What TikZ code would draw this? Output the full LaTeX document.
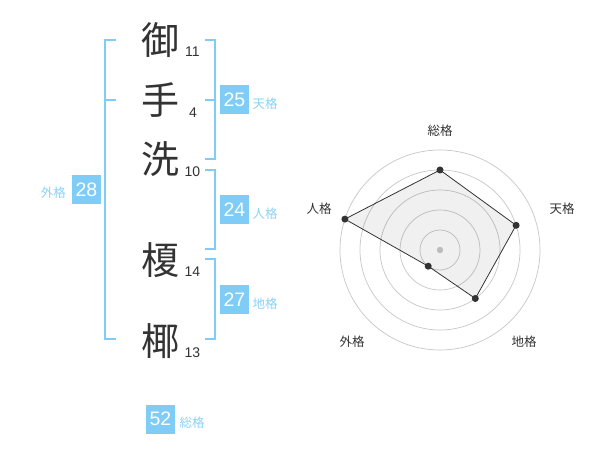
\documentclass[tikz,border=0pt]{standalone}
\usepackage{fontspec}
\setmainfont{Liberation Sans}
\newfontfamily\cjk{Noto Sans CJK JP}
\definecolor{kblue}{HTML}{7FCCF7}
\definecolor{klab}{HTML}{8CD2F7}
\definecolor{ink}{HTML}{333333}
\begin{document}
\begin{tikzpicture}[x=1pt,y=-1pt,
  kanji/.style={text=ink,font=\cjk\fontsize{38}{38}\selectfont,inner sep=0pt},
  num/.style={text=ink,font=\fontsize{14}{14}\selectfont,inner sep=0pt},
  br/.style={draw=kblue,line width=2pt},
  kbox/.style={fill=kblue,text=white,minimum size=29pt,inner sep=0pt,font=\fontsize{19.5}{19.5}\selectfont},
  klabel/.style={text=klab,font=\cjk\fontsize{12.5}{12.5}\selectfont,inner sep=0pt},
  rlabel/.style={text=ink,font=\cjk\fontsize{12.5}{12.5}\selectfont,inner sep=0pt},
  ring/.style={draw=black!22,line width=0.7pt},
  dot/.style={circle,fill=ink,inner sep=0pt,minimum size=7pt}]
\useasboundingbox (0,0) rectangle (600,470);
\fill[white] (0,0) rectangle (600,470);
% kanji
\node[kanji] (k1) at (160,40) {御};
\node[kanji] (k2) at (160,100) {手};
\node[kanji] (k3) at (160,159) {洗};
\node[kanji] (k4) at (160,260) {榎};
\node[kanji] (k5) at (160,341) {椰};
% stroke counts
\node[num] (n1) at (192.5,52) {11};
\node[num] (n2) at (193,113) {4};
\node[num] (n3) at (192.5,172) {10};
\node[num] (n4) at (192.5,272) {14};
\node[num] (n5) at (192.5,353) {13};
% brackets
\draw[br] (116,40) -- (105,40) -- (105,339) -- (116,339);
\draw[br] (105,100) -- (116,100);
\draw[br] (205,40) -- (215,40) -- (215,159) -- (205,159);
\draw[br] (205,100) -- (215,100);
\draw[br] (205,170) -- (215,170) -- (215,249) -- (205,249);
\draw[br] (205,259) -- (215,259) -- (215,339) -- (205,339);
% boxes and labels
\node[kbox] (ten) at (234.5,100) {25};
\node[klabel,anchor=west] (tenl) at (252.5,103.5) {天格};
\node[kbox] (jin) at (234.5,210) {24};
\node[klabel,anchor=west] (jinl) at (252.5,213.5) {人格};
\node[kbox] (chi) at (234.5,300) {27};
\node[klabel,anchor=west] (chil) at (252.5,303.5) {地格};
\node[kbox] (gai) at (86.5,190) {28};
\node[klabel,anchor=east] (gail) at (66,193) {外格};
\node[kbox] (sou) at (160.5,419) {52};
\node[klabel,anchor=west] (soul) at (179.5,422.5) {総格};
% radar chart
\coordinate (c) at (440,250);
\foreach \r in {20,40,60,80,100} \draw[ring] (c) circle[radius=\r];
\fill[black!22] (c) circle[radius=3.2];
\coordinate (pSou) at (440,170);
\coordinate (pTen) at (516.1,225.3);
\coordinate (pChi) at (475.3,298.5);
\coordinate (pGai) at (428.2,266.2);
\coordinate (pJin) at (344.9,219.1);
\filldraw[fill=black,fill opacity=0.06,draw=ink,line width=0.8pt]
  (pSou) -- (pTen) -- (pChi) -- (pGai) -- (pJin) -- cycle;
\foreach \p in {pSou,pTen,pChi,pGai,pJin} \node[dot] at (\p) {};
\node[rlabel] (lSou) at (440,131) {総格};
\node[rlabel] (lTen) at (562,209) {天格};
\node[rlabel] (lChi) at (524,342) {地格};
\node[rlabel] (lGai) at (352,342) {外格};
\node[rlabel] (lJin) at (319,209) {人格};
\end{tikzpicture}
\end{document}
